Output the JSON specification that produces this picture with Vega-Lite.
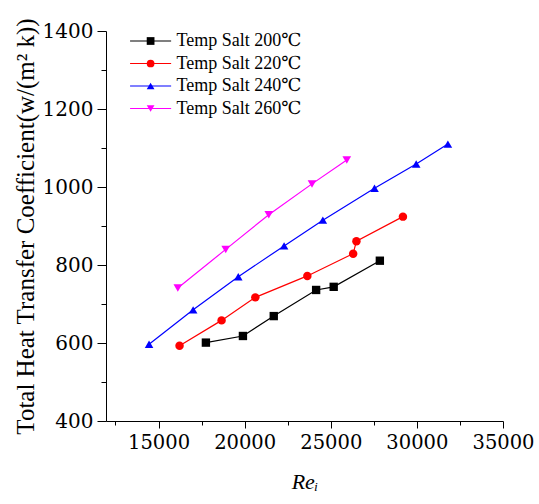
{
  "$schema": "https://vega.github.io/schema/vega-lite/v6.json",
  "width": 397,
  "height": 390,
  "autosize": "none",
  "padding": {"left": 106, "top": 31, "right": 36, "bottom": 83},
  "background": "white",
  "config": {
    "view": {"stroke": null},
    "axis": {
      "grid": false,
      "domainColor": "black",
      "domainWidth": 1,
      "tickColor": "black",
      "tickWidth": 1,
      "labelColor": "black",
      "titleColor": "black",
      "titleFontWeight": "normal"
    }
  },
  "data": {
    "values": [
      {"series": "Temp Salt 200℃", "re": 17750, "h": 601},
      {"series": "Temp Salt 200℃", "re": 19900, "h": 618},
      {"series": "Temp Salt 200℃", "re": 21690, "h": 669},
      {"series": "Temp Salt 200℃", "re": 24150, "h": 736},
      {"series": "Temp Salt 200℃", "re": 25170, "h": 744},
      {"series": "Temp Salt 200℃", "re": 27850, "h": 811},
      {"series": "Temp Salt 220℃", "re": 16220, "h": 593},
      {"series": "Temp Salt 220℃", "re": 18660, "h": 658},
      {"series": "Temp Salt 220℃", "re": 20620, "h": 717},
      {"series": "Temp Salt 220℃", "re": 23640, "h": 772},
      {"series": "Temp Salt 220℃", "re": 26300, "h": 829},
      {"series": "Temp Salt 220℃", "re": 26490, "h": 861},
      {"series": "Temp Salt 220℃", "re": 29190, "h": 924},
      {"series": "Temp Salt 240℃", "re": 14450, "h": 597},
      {"series": "Temp Salt 240℃", "re": 17010, "h": 685},
      {"series": "Temp Salt 240℃", "re": 19630, "h": 770},
      {"series": "Temp Salt 240℃", "re": 22290, "h": 849},
      {"series": "Temp Salt 240℃", "re": 24540, "h": 915},
      {"series": "Temp Salt 240℃", "re": 27540, "h": 997},
      {"series": "Temp Salt 240℃", "re": 29960, "h": 1059},
      {"series": "Temp Salt 240℃", "re": 31800, "h": 1110},
      {"series": "Temp Salt 260℃", "re": 16120, "h": 741},
      {"series": "Temp Salt 260℃", "re": 18900, "h": 840},
      {"series": "Temp Salt 260℃", "re": 21400, "h": 929},
      {"series": "Temp Salt 260℃", "re": 23910, "h": 1008},
      {"series": "Temp Salt 260℃", "re": 25930, "h": 1069}
    ]
  },
  "encoding": {
    "x": {
      "field": "re",
      "type": "quantitative",
      "scale": {"domain": [11950, 35000], "nice": false, "zero": false},
      "axis": {
        "title": "Reᵢ",
        "titleFont": "Liberation Serif, DejaVu Serif",
        "titleFontSize": 22,
        "titleFontStyle": "italic",
        "titlePadding": 20,
        "labelFont": "DejaVu Serif",
        "labelFontSize": 19.5,
        "values": [12500, 15000, 17500, 20000, 22500, 25000, 27500, 30000, 32500, 35000],
        "format": "d",
        "labelExpr": "datum.value % 5000 == 0 ? datum.label : ''",
        "tickSize": {"condition": {"test": "datum.value % 5000 == 0", "value": 7}, "value": 4},
        "labelPadding": 5,
        "labelFlush": false,
        "labelOverlap": false
      }
    },
    "y": {
      "field": "h",
      "type": "quantitative",
      "scale": {"domain": [400, 1400], "nice": false, "zero": false},
      "axis": {
        "title": "Total Heat Transfer Coefficient(w/(m² k))",
        "titleFont": "Liberation Serif, DejaVu Serif",
        "titleFontSize": 25,
        "titlePadding": 4,
        "labelFont": "DejaVu Serif",
        "labelFontSize": 20,
        "values": [400, 500, 600, 700, 800, 900, 1000, 1100, 1200, 1300, 1400],
        "format": "d",
        "labelExpr": "datum.value % 200 == 0 ? datum.label : ''",
        "tickSize": {"condition": {"test": "datum.value % 200 == 0", "value": 9}, "value": 5},
        "labelPadding": 4,
        "labelFlush": false,
        "labelOverlap": false
      }
    }
  },
  "layer": [
    {
      "mark": {"type": "line", "strokeWidth": 1.2},
      "encoding": {
        "color": {
          "field": "series",
          "type": "nominal",
          "scale": {
            "domain": ["Temp Salt 200℃", "Temp Salt 220℃", "Temp Salt 240℃", "Temp Salt 260℃"],
            "range": ["#000000", "#ff0000", "#0000ff", "#ff00ff"]
          },
          "legend": {
            "title": null,
            "orient": "none",
            "legendX": 35.6,
            "legendY": 1,
            "padding": 0,
            "symbolType": "M-5.3,0H5.3",
            "symbolSize": 60,
            "symbolStrokeWidth": 1.2,
            "labelFont": "Liberation Serif, DejaVu Serif",
            "labelFontSize": 18,
            "labelOffset": 17,
            "rowPadding": 4.5,
            "labelColor": "black"
          }
        }
      }
    },
    {
      "mark": {"type": "point", "filled": true, "opacity": 1},
      "encoding": {
        "size": {
          "field": "series",
          "type": "nominal",
          "scale": {
            "domain": ["Temp Salt 200℃", "Temp Salt 220℃", "Temp Salt 240℃", "Temp Salt 260℃"],
            "range": [70, 75, 150, 145]
          },
          "legend": null
        },
        "color": {
          "field": "series",
          "type": "nominal",
          "legend": {
            "title": null,
            "orient": "none",
            "legendX": 35.6,
            "legendY": 1,
            "padding": 0,
            "symbolSize": 60,
            "symbolOpacity": 1,
            "labelFont": "Liberation Serif, DejaVu Serif",
            "labelFontSize": 18,
            "labelOffset": 17,
            "rowPadding": 4.5,
            "labelExpr": "''"
          }
        },
        "shape": {
          "field": "series",
          "type": "nominal",
          "scale": {
            "domain": ["Temp Salt 200℃", "Temp Salt 220℃", "Temp Salt 240℃", "Temp Salt 260℃"],
            "range": ["square", "circle", "triangle-up", "triangle-down"]
          },
          "legend": {
            "title": null,
            "orient": "none",
            "legendX": 35.6,
            "legendY": 1,
            "padding": 0,
            "symbolSize": 60,
            "labelFont": "Liberation Serif, DejaVu Serif",
            "labelFontSize": 18,
            "labelOffset": 17,
            "rowPadding": 4.5,
            "labelExpr": "''"
          }
        }
      }
    }
  ],
  "resolve": {"legend": {"color": "independent", "shape": "independent"}}
}
